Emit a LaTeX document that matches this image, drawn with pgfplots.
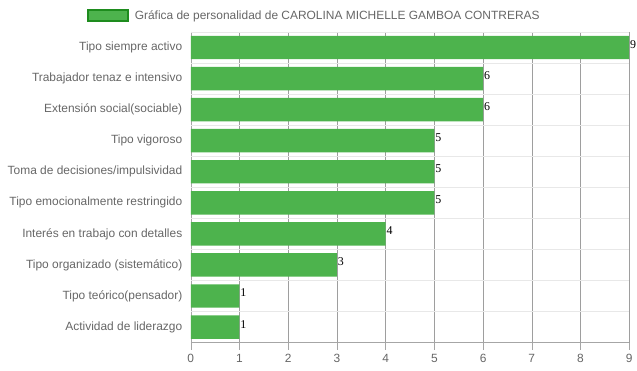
\documentclass[border=0pt]{standalone}
\usepackage{pgfplots}
\pgfplotsset{compat=1.18}
\usepackage{fontspec}
\setmainfont{Liberation Sans}
\newfontfamily\valfont{Liberation Serif}
\definecolor{barg}{HTML}{4DB34D}
\definecolor{barb}{HTML}{1E8C1E}
\definecolor{txt}{HTML}{666666}
\begin{document}
\begin{tikzpicture}[x=1bp,y=1bp]
\path (0,0) rectangle (637,371);
\begin{axis}[
  at={(191bp,28bp)}, anchor=south west,
  scale only axis, width=439bp, height=311bp,
  xbar, bar width=23.5bp,
  xmin=0, xmax=9, ymin=-0.5, ymax=9.5,
  y dir=reverse,
  axis x line=bottom, axis y line=left,
  axis line style={-, draw=black!35},
  xtick={0,...,9},
  ytick={0,...,9},
  yticklabels={Tipo siempre activo,Trabajador tenaz e intensivo,Extensión social(sociable),Tipo vigoroso,Toma de decisiones/impulsividad,Tipo emocionalmente restringido,Interés en trabajo con detalles,Tipo organizado (sistemático),Tipo teórico(pensador),Actividad de liderazgo},
  ytick style={draw=none},
  xtick style={draw=black!35, thin},
  tick align=outside, major tick length=7bp,
  xmajorgrids, major grid style={draw=black!38, thin},
  extra y ticks={-0.5,0.5,1.5,2.5,3.5,4.5,5.5,6.5,7.5,8.5},
  extra y tick labels={},
  extra y tick style={ymajorgrids, major grid style={draw=black!9, thin}, tick style={draw=black!9, thin}, major tick length=10bp},
  tick label style={font=\fontsize{12}{14}\selectfont, text=txt},
  /pgf/number format/assume math mode=true,
  yticklabel style={xshift=2bp},
  xticklabel style={yshift=-1bp},
  nodes near coords={\valfont\pgfmathprintnumber{\pgfplotspointmeta}},
  nodes near coords style={anchor=west, inner sep=0.8bp, yshift=3bp, font=\fontsize{12}{14}\selectfont, text=black},
  clip=false,
  legend style={at={(-0.237,1.053)}, anchor=west, draw=none, fill=none, font=\fontsize{12}{14}\selectfont, text=txt, inner sep=0pt, outer sep=0pt},
  legend image code/.code={\draw[fill=barg, draw=barb, line width=2bp] (0bp,-6bp) rectangle (40bp,6bp);},
  legend cell align=left,
]
\addplot[fill=barg, draw=none] coordinates {(9,0) (6,1) (6,2) (5,3) (5,4) (5,5) (4,6) (3,7) (1,8) (1,9)};
\addlegendentry{\hspace{4bp}Gráfica de personalidad de CAROLINA MICHELLE GAMBOA CONTRERAS}
\end{axis}
\end{tikzpicture}
\end{document}
